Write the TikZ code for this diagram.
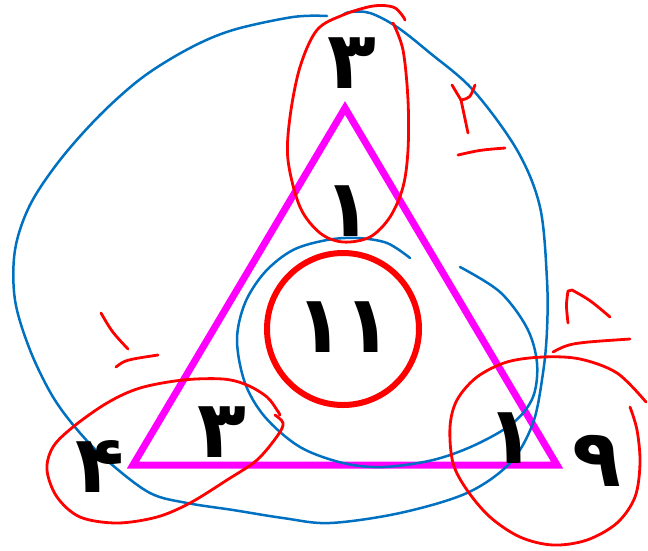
\documentclass[tikz,border=0pt]{standalone}
\usepackage{fontspec}
\newfontfamily\fa[Script=Arabic]{DejaVu Sans}
\TeXXeTstate=1
\definecolor{mag}{RGB}{255,0,255}
\definecolor{pen}{RGB}{255,0,0}
\definecolor{ink}{RGB}{0,112,192}
\begin{document}
\begin{tikzpicture}[x=1pt,y=-1pt,
  digit/.style={font=\fa\bfseries\fontsize{80}{80}\selectfont, inner sep=0pt, text=black},
  tri/.style={draw=mag, line width=7pt, line join=miter},
  ring/.style={draw=pen, line width=6pt},
  redpen/.style={draw=pen, line width=2.8pt, line cap=round, line join=round},
  bluepen/.style={draw=ink, line width=2.5pt, line cap=round, line join=round}]
\useasboundingbox (0,0) rectangle (648,550);
% triangle and circle
\draw[tri] (345,108) -- (557,465) -- (133,465) -- cycle;
\draw[ring] (343,329) circle (76);
% blue loops
\draw[bluepen] plot[smooth, tension=0.55] coordinates {(327,16) (293,17) (233,30) (190,48) (143,77) (100,115) (60,160) (30,205) (15,250) (15,300) (30,350) (53,397) (80,433) (110,463) (150,493) (187,503) (233,510) (283,518) (330,523) (400,513) (467,493) (510,463) (533,423) (543,373) (547,330) (547,280) (540,207) (517,150) (473,90) (430,53) (397,27) (370,13) (350,12) (343,15)};
\draw[bluepen] plot[smooth, tension=0.55] coordinates {(410,258) (387,243) (357,238) (327,240) (293,250) (265,272) (245,303) (237,340) (245,383) (265,417) (300,447) (343,463) (383,467) (433,460) (475,445) (513,423) (533,397) (537,363) (527,328) (500,292) (460,267)};
% red loops
\draw[redpen] plot[smooth, tension=0.55] coordinates {(393,23) (403,50) (408,100) (408,150) (403,187) (390,217) (370,237) (343,242) (320,233) (300,207) (288,160) (290,117) (300,67) (317,30) (343,15) (373,6) (393,7) (402,15) (405,20)};
\draw[redpen] plot[smooth, tension=0.55] coordinates {(275,415) (283,423) (278,435) (257,460) (227,480) (190,503) (157,517) (117,523) (80,517) (57,497) (47,470) (53,447) (73,427) (107,403) (140,388) (183,380) (223,379) (247,385) (267,397) (277,410) (280,415)};
\draw[redpen] plot[smooth, tension=0.55] coordinates {(646,402) (617,373) (580,359) (543,357) (507,362) (477,377) (457,400) (450,427) (453,463) (467,490) (490,517) (520,537) (553,545) (587,540) (617,523) (635,497) (640,463) (637,430) (630,407)};
% red scribbles
\draw[redpen] (452,85) -- (461,100) -- (468,133);
\draw[redpen] (461,100) .. controls (470,98) .. (475,85);
\draw[redpen] (458,155) .. controls (480,150) .. (505,148);
\draw[redpen] (568,323) .. controls (566,305) .. (568,291) -- (572,290) .. controls (590,300) .. (610,317);
\draw[redpen] (553,352) .. controls (570,343) .. (630,339);
\draw[redpen] (101,313) .. controls (112,332) .. (128,349);
\draw[redpen] (116,367) .. controls (125,360) .. (158,355);
% digits
\node[digit] (t3) at (352,63) {\beginR ۳\endR};
\node[digit] (t1) at (348,211) {\beginR ۱\endR};
\node[digit] (c11) at (344,327) {\beginR ۱۱\endR};
\node[digit] (l3) at (222,432) {\beginR ۳\endR};
\node[digit] (l4) at (100,466) {\beginR ۴\endR};
\node[digit] (r1) at (511,438) {\beginR ۱\endR};
\node[digit] (r9) at (597,461) {\beginR ۹\endR};
\end{tikzpicture}
\end{document}
